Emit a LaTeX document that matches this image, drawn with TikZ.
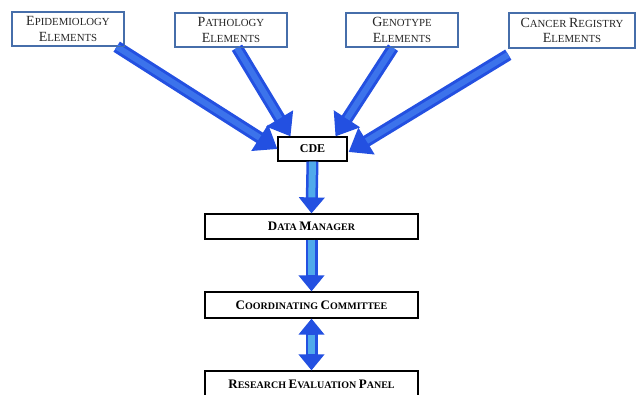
\documentclass[tikz,border=0pt]{standalone}
\usepackage{fontspec}
\setmainfont{Liberation Serif}
\usepackage{tikz}
\usetikzlibrary{arrows.meta}

\definecolor{boxblue}{RGB}{70,110,170}
\definecolor{arrowdark}{RGB}{35,80,225}
\definecolor{arrowmid}{RGB}{60,115,235}
\definecolor{arrowlight}{RGB}{80,170,235}

% fake small caps: large first letter, smaller rest
\newcommand{\smc}[2]{{\fontsize{14}{16}\selectfont #1}{\fontsize{10.8}{16}\selectfont #2}}
\newcommand{\bsmc}[2]{{\fontsize{13}{15}\selectfont #1}{\fontsize{10}{15}\selectfont #2}}

\begin{document}
\begin{tikzpicture}[x=1pt,y=-1pt,
  srcbox/.style={draw=boxblue,line width=1.4pt,fill=white,minimum width=112pt,minimum height=34pt,
    inner sep=0pt,align=center,text=black!85,font=\fontsize{10.8}{15.5}\selectfont},
  flowbox/.style={draw=black,line width=1.2pt,fill=white,minimum height=25pt,inner sep=0pt,font=\bfseries},
  diagarrow/.style={line width=12pt,draw=arrowdark,-{Triangle[width=30pt,length=21pt]}},
  diaginner/.style={line width=6pt,draw=arrowmid,shorten >=21pt},
  vertarrow/.style={line width=12pt,draw=arrowdark,-{Triangle[width=25pt,length=16pt]}},
  vertinner/.style={line width=7pt,draw=arrowlight,shorten >=16pt}]
\useasboundingbox (0,0) rectangle (637,394);

\node[srcbox] (epi) at (68,29) {\smc{E}{PIDEMIOLOGY}\\\smc{E}{LEMENTS}};
\node[srcbox] (path) at (231,30) {\smc{P}{ATHOLOGY}\\\smc{E}{LEMENTS}};
\node[srcbox] (geno) at (402,30) {\smc{G}{ENOTYPE}\\\smc{E}{LEMENTS}};
\node[srcbox,minimum width=126pt,minimum height=35pt] (canc) at (572,30.5) {\smc{C}{ANCER} \smc{R}{EGISTRY}\\\smc{E}{LEMENTS}};

\node[flowbox,minimum width=69pt,minimum height=24pt] (cde) at (312.5,149) {\fontsize{12}{14}\selectfont CDE};
\node[flowbox,minimum width=213pt] (dm) at (311.5,226.5) {\bsmc{D}{ATA} \bsmc{M}{ANAGER}};
\node[flowbox,minimum width=213pt,minimum height=26pt] (cc) at (311.5,305) {\bsmc{C}{OORDINATING} \bsmc{C}{OMMITTEE}};
\node[flowbox,minimum width=213pt,minimum height=30pt] (rep) at (311.5,386) {\raisebox{3pt}{\bsmc{R}{ESEARCH} \bsmc{E}{VALUATION} \bsmc{P}{ANEL}}};

% element boxes into the CDE
\draw[diagarrow] ([xshift=-8pt]epi.south east) -- (cde.west);
\draw[diaginner] ([xshift=-8pt]epi.south east) -- (cde.west);
\draw[diagarrow] ([xshift=6pt]path.south) -- ([xshift=-22pt]cde.north);
\draw[diaginner] ([xshift=6pt]path.south) -- ([xshift=-22pt]cde.north);
\draw[diagarrow] ([xshift=-9pt]geno.south) -- ([xshift=23pt]cde.north);
\draw[diaginner] ([xshift=-9pt]geno.south) -- ([xshift=23pt]cde.north);
\draw[diagarrow] ([yshift=-6pt]canc.south west) -- ([xshift=1pt,yshift=-3pt]cde.east);
\draw[diaginner] ([yshift=-6pt]canc.south west) -- ([xshift=1pt,yshift=-3pt]cde.east);

% down the chain
\draw[vertarrow] (cde.south) -- (dm.north);
\draw[vertinner] (cde.south) -- (dm.north);
\draw[vertarrow] (dm.south) -- (cc.north);
\draw[vertinner] (dm.south) -- (cc.north);
\draw[vertarrow,{Triangle[width=25pt,length=16pt]}-{Triangle[width=25pt,length=16pt]}] (cc.south) -- (rep.north);
\draw[vertinner,shorten <=16pt] (cc.south) -- (rep.north);

% redraw the box borders over the arrow ends
\foreach \b in {epi,path,geno,canc}
  \draw[boxblue,line width=1.4pt] (\b.south west) rectangle (\b.north east);
\end{tikzpicture}
\end{document}
